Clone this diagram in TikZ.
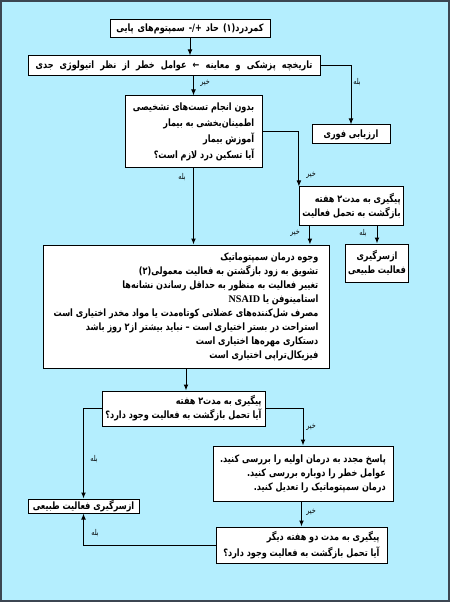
\documentclass[tikz,border=0pt]{standalone}
\usepackage{fontspec}
\usetikzlibrary{arrows.meta,calc}
\TeXXeTstate=1
\newfontfamily\farsifont[Script=Arabic, FakeStretch=0.8]{DejaVu Sans}
\newfontfamily\latinfont{Liberation Serif}
\newcommand{\fa}[1]{{\farsifont\beginR #1\endR}}
\newcommand{\lat}[1]{\beginL{\latinfont #1}\endL{}}
\newlength\px
\setlength\px{0.75pt}
\definecolor{bgcyan}{RGB}{180,238,254}
\definecolor{framegray}{RGB}{60,70,82}
\tikzset{
  box/.style={draw, fill=white, line width=0.75pt, inner xsep=3\px, inner ysep=0pt,
    font=\bfseries\fontsize{7.6}{10.5}\selectfont},
  sz/.style 2 args={minimum width=#1\px, minimum height=#2\px},
  rtl/.style={align=right},
  arr/.style={-{Latex[length=4.5pt,width=3.6pt]}, line width=0.75pt},
  lbl/.style={font=\fontsize{6}{7}\selectfont, inner sep=0pt},
}
\begin{document}
\begin{tikzpicture}[x=0.75pt,y=0.75pt,yscale=-1,xscale=1]
% background and frame
\fill[bgcyan] (0,0) rectangle (450,602);
\draw[framegray, line width=2\px] (1,1) rectangle (449,601);
\useasboundingbox (0,0) rectangle (450,602);

% Boxes
\node[box, sz={160}{18}] (pain) at (190,29) {\spaceskip=3pt\relax\fa{کمردرد(۱) حاد +/- سمپتوم‌های پایی}};
\node[box, sz={292}{20}] (hist) at (174,66) {\spaceskip=4.6pt\relax\fa{تاریخچه پزشکی و معاینه ← عوامل خطر از نظر اتیولوژی جدی}};
\node[box, sz={137}{72}, rtl] (noTest) at (193.5,132) {%
  \fa{بدون انجام تست‌های تشخیصی}\\[1.5pt]
  \fa{اطمینان‌بخشی به بیمار}\\[1.5pt]
  \fa{آموزش بیمار}\\[1.5pt]
  \fa{آیا تسکین درد لازم است؟}};
\node[box, sz={78}{19}] (urgent) at (351,134.5) {\fa{ارزیابی فوری}};
\node[box, sz={103}{38}, rtl] (fup1) at (351.5,206) {%
  \fa{پیگیری به مدت۲ هفته}\\
  \fa{بازگشت به تحمل فعالیت}};
\node[box, sz={286}{123}, rtl] (treat) at (186,306.5) {%
  \fa{وجوه درمان سمپتوماتیک}\\
  \fa{تشویق به زود بازگشتن به فعالیت معمولی(۲)}\\
  \fa{تغییر فعالیت به منظور به حداقل رساندن نشانه‌ها}\\
  \fa{استامینوفن یا \lat{NSAID}}\\
  \fa{مصرف شل‌کننده‌های عضلانی کوتاه‌مدت یا مواد مخدر اختیاری است}\\
  \fa{استراحت در بستر اختیاری است – نباید بیشتر از۲ روز باشد}\\
  \fa{دستکاری مهره‌ها اختیاری است}\\
  \fa{فیزیکال‌تراپی اختیاری است}};
\node[box, sz={62}{38}, align=center] (resumeA) at (377,263) {%
  \fa{ازسرگیری}\\
  \fa{فعالیت طبیعی}};
\node[box, sz={163}{35}, rtl] (fup2) at (183.5,408.5) {%
  \fa{پیگیری به مدت۲ هفته}\\
  \fa{آیا تحمل بازگشت به فعالیت وجود دارد؟}};
\node[box, sz={180}{55}, rtl] (review) at (303,473.5) {%
  \fa{پاسخ مجدد به درمان اولیه را بررسی کنید.}\\
  \fa{عوامل خطر را دوباره بررسی کنید.}\\
  \fa{درمان سمپتوماتیک را تعدیل کنید.}};
\node[box, sz={111}{14}] (resumeB) at (83.5,506) {\fa{ازسرگیری فعالیت طبیعی}};
\node[box, sz={171}{36}, rtl] (fup3) at (301.5,545) {%
  \fa{پیگیری به مدت دو هفته دیگر}\\[1pt]
  \fa{آیا تحمل بازگشت به فعالیت وجود دارد؟}};

% Connectors
\draw[arr] (pain.south) -- (pain.south |- hist.north);
\draw[arr] (noTest.north |- hist.south) -- (noTest.north);
\draw[arr] (hist.east) -| (urgent.north);
\draw[arr] (noTest.east) -| (fup1.north west);
\draw[arr] (noTest.south) -- (noTest.south |- treat.north);
\coordinate (fup1no) at ($(fup1.south west)+(11,0)$);
\draw[arr] (fup1no) -- (fup1no |- treat.north);
\draw[arr] (resumeA.north |- fup1.south) -- (resumeA.north);
\draw[arr] (treat.south) -- (treat.south |- fup2.north);
\draw[arr] (fup2.west) -| (resumeB.north);
\draw[arr] (fup2.east) -| (review.north);
\draw[arr] (fup3.north |- review.south) -- (fup3.north);
\draw[arr] (fup3.west) -| (resumeB.south);

% Labels
\node[lbl] (l1) at (205,83) {\fa{خیر}};
\node[lbl] (l2) at (357,82) {\fa{بله}};
\node[lbl] (l3) at (311,175) {\fa{خیر}};
\node[lbl] (l4) at (182,177) {\fa{بله}};
\node[lbl] (l5) at (295,233) {\fa{خیر}};
\node[lbl] (l6) at (363,233) {\fa{بله}};
\node[lbl] (l7) at (94,459) {\fa{بله}};
\node[lbl] (l8) at (311,427) {\fa{خیر}};
\node[lbl] (l9) at (311,512) {\fa{خیر}};
\node[lbl] (l10) at (95,533) {\fa{بله}};
\end{tikzpicture}
\end{document}
